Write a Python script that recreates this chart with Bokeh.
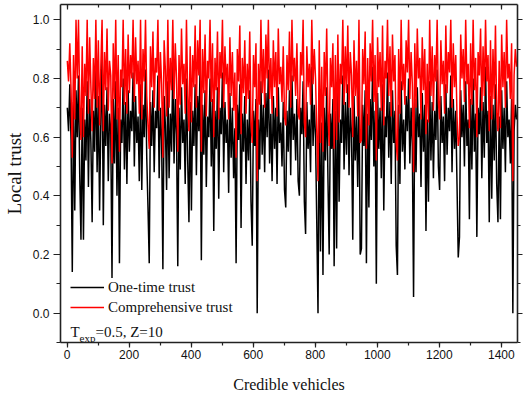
import numpy as np
from bokeh.plotting import figure
from bokeh.models import (Range1d, LinearAxis, SingleIntervalTicker, NumeralTickFormatter,
                          Legend, LegendItem, Label)
from bokeh.embed import file_html
from bokeh.resources import INLINE

# ---------------- data (one value every 4 vehicles) ----------------
vehicle_step = 4
one_time_trust = [
    0.70, 0.62, 0.78, 0.59, 0.14, 0.72, 0.35, 0.76, 0.60, 0.81, 0.47, 0.25, 0.70, 0.25, 0.66, 0.52, 0.79, 0.43, 0.73, 0.58, 0.31, 0.69, 0.55, 0.84, 0.48,
    0.74, 0.35, 0.66, 0.88, 0.30, 0.71, 0.57, 0.77, 0.45, 0.68, 0.62, 0.12, 0.73, 0.51, 0.79, 0.40, 0.70, 0.17, 0.66, 0.58, 0.80, 0.49, 0.72, 0.44, 0.76,
    0.55, 0.69, 0.62, 0.82, 0.50, 0.74, 0.58, 0.67, 0.45, 0.78, 0.42, 0.71, 0.60, 0.83, 0.53, 0.36, 0.17, 0.72, 0.57, 0.76, 0.48, 0.69, 0.63, 0.81, 0.46,
    0.70, 0.59, 0.15, 0.74, 0.64, 0.42, 0.79, 0.46, 0.68, 0.55, 0.85, 0.51, 0.73, 0.61, 0.16, 0.70, 0.49, 0.77, 0.58, 0.66, 0.44, 0.80, 0.52, 0.31, 0.72,
    0.35, 0.69, 0.57, 0.78, 0.47, 0.74, 0.62, 0.84, 0.18, 0.71, 0.54, 0.76, 0.43, 0.67, 0.60, 0.80, 0.50, 0.73, 0.28, 0.69, 0.56, 0.77, 0.39, 0.70, 0.61,
    0.82, 0.48, 0.72, 0.58, 0.66, 0.41, 0.75, 0.53, 0.70, 0.46, 0.63, 0.17, 0.71, 0.59, 0.78, 0.29, 0.68, 0.55, 0.74, 0.44, 0.66, 0.52, 0.76, 0.38, 0.23,
    0.69, 0.57, 0.73, 0.00, 0.66, 0.49, 0.79, 0.54, 0.71, 0.48, 0.75, 0.60, 0.83, 0.51, 0.68, 0.45, 0.74, 0.56, 0.70, 0.44, 0.77, 0.58, 0.65, 0.50, 0.72,
    0.42, 0.36, 0.69, 0.55, 0.76, 0.47, 0.81, 0.59, 0.68, 0.52, 0.73, 0.45, 0.40, 0.70, 0.61, 0.79, 0.38, 0.27, 0.72, 0.56, 0.66, 0.48, 0.84, 0.57, 0.71,
    0.60, 0.31, 0.00, 0.74, 0.21, 0.65, 0.13, 0.70, 0.52, 0.77, 0.46, 0.20, 0.68, 0.56, 0.73, 0.16, 0.69, 0.22, 0.75, 0.38, 0.66, 0.58, 0.81, 0.49, 0.72,
    0.54, 0.78, 0.47, 0.70, 0.61, 0.25, 0.74, 0.52, 0.67, 0.43, 0.79, 0.20, 0.22, 0.71, 0.57, 0.76, 0.17, 0.68, 0.36, 0.73, 0.59, 0.84, 0.50, 0.69, 0.10,
    0.75, 0.56, 0.70, 0.46, 0.78, 0.35, 0.67, 0.60, 0.82, 0.53, 0.72, 0.44, 0.76, 0.58, 0.69, 0.23, 0.13, 0.71, 0.44, 0.79, 0.55, 0.66, 0.49, 0.74, 0.62,
    0.80, 0.51, 0.70, 0.57, 0.055, 0.73, 0.48, 0.77, 0.60, 0.68, 0.43, 0.75, 0.55, 0.71, 0.28, 0.66, 0.38, 0.79, 0.52, 0.72, 0.46, 0.69, 0.59, 0.83, 0.50,
    0.42, 0.74, 0.58, 0.67, 0.45, 0.78, 0.54, 0.70, 0.62, 0.81, 0.48, 0.73, 0.56, 0.69, 0.44, 0.19, 0.26, 0.76, 0.60, 0.71, 0.50, 0.79, 0.57, 0.66, 0.32,
    0.73, 0.49, 0.80, 0.55, 0.68, 0.26, 0.70, 0.61, 0.77, 0.46, 0.72, 0.53, 0.84, 0.58, 0.69, 0.31, 0.74, 0.39, 0.71, 0.52, 0.78, 0.44, 0.31, 0.67, 0.32,
    0.76, 0.56, 0.70, 0.48, 0.79, 0.60, 0.66, 0.51, 0.73, 0.00, 0.62, 0.71, 0.66,
]
comprehensive_trust = [
    0.86, 0.79, 0.92, 0.76, 0.53, 0.88, 0.66, 1.00, 0.80, 1.00, 0.71, 0.59, 0.91, 0.60, 0.85, 0.74, 1.00, 0.68, 0.94, 0.77, 0.62, 0.87, 0.73, 1.00, 0.70,
    0.93, 0.64, 0.84, 1.00, 0.62, 0.89, 0.76, 0.97, 0.69, 0.86, 0.81, 0.51, 0.92, 0.73, 1.00, 0.66, 0.88, 0.55, 0.83, 0.77, 1.00, 0.71, 0.90, 0.68, 0.95,
    0.75, 0.88, 0.80, 1.00, 0.72, 0.94, 0.78, 0.86, 0.68, 1.00, 0.66, 0.90, 0.79, 1.00, 0.74, 0.64, 0.56, 0.91, 0.77, 0.96, 0.70, 0.87, 0.82, 1.00, 0.69,
    0.89, 0.78, 0.53, 0.93, 0.83, 0.67, 1.00, 0.70, 0.87, 0.76, 1.00, 0.73, 0.92, 0.80, 0.55, 0.88, 0.71, 0.97, 0.78, 0.85, 0.68, 1.00, 0.74, 0.62, 0.91,
    0.65, 0.88, 0.77, 0.98, 0.70, 0.93, 0.81, 1.00, 0.55, 0.90, 0.75, 0.95, 0.67, 0.86, 0.80, 1.00, 0.72, 0.92, 0.60, 0.87, 0.76, 0.96, 0.66, 0.89, 0.80,
    1.00, 0.70, 0.91, 0.78, 0.85, 0.66, 0.94, 0.74, 0.89, 0.69, 0.82, 0.53, 0.90, 0.79, 0.98, 0.61, 0.87, 0.75, 0.93, 0.68, 0.85, 0.73, 0.96, 0.65, 0.58,
    0.88, 0.77, 0.92, 0.45, 0.85, 0.71, 1.00, 0.75, 0.90, 0.70, 0.95, 0.80, 1.00, 0.73, 0.87, 0.68, 0.93, 0.77, 0.89, 0.67, 0.97, 0.78, 0.84, 0.72, 0.91,
    0.67, 0.64, 0.88, 0.76, 0.96, 0.70, 1.00, 0.79, 0.87, 0.74, 0.92, 0.68, 0.66, 0.89, 0.81, 1.00, 0.65, 0.60, 0.91, 0.77, 0.85, 0.71, 1.00, 0.78, 0.90,
    0.80, 0.62, 0.45, 0.93, 0.58, 0.84, 0.55, 0.89, 0.74, 0.97, 0.69, 0.57, 0.87, 0.77, 0.92, 0.56, 0.88, 0.59, 0.95, 0.65, 0.85, 0.78, 1.00, 0.71, 0.91,
    0.75, 0.98, 0.70, 0.89, 0.81, 0.60, 0.93, 0.74, 0.86, 0.67, 1.00, 0.58, 0.59, 0.90, 0.78, 0.96, 0.56, 0.87, 0.64, 0.92, 0.79, 1.00, 0.72, 0.88, 0.52,
    0.94, 0.77, 0.89, 0.69, 0.98, 0.64, 0.86, 0.80, 1.00, 0.74, 0.91, 0.67, 0.95, 0.79, 0.88, 0.58, 0.52, 0.90, 0.68, 1.00, 0.76, 0.85, 0.71, 0.93, 0.82,
    1.00, 0.73, 0.89, 0.78, 0.48, 0.92, 0.70, 0.97, 0.80, 0.87, 0.66, 0.94, 0.76, 0.90, 0.61, 0.85, 0.65, 1.00, 0.74, 0.91, 0.69, 0.88, 0.79, 1.00, 0.72,
    0.66, 0.93, 0.78, 0.86, 0.68, 0.98, 0.75, 0.89, 0.82, 1.00, 0.70, 0.92, 0.77, 0.88, 0.67, 0.57, 0.60, 0.95, 0.80, 0.90, 0.72, 1.00, 0.78, 0.85, 0.63,
    0.92, 0.71, 1.00, 0.76, 0.87, 0.60, 0.89, 0.81, 0.97, 0.69, 0.91, 0.74, 1.00, 0.79, 0.88, 0.62, 0.93, 0.66, 0.90, 0.73, 0.98, 0.68, 0.62, 0.86, 0.63,
    0.95, 0.77, 0.89, 0.70, 1.00, 0.80, 0.85, 0.73, 0.92, 0.45, 0.81, 0.90, 0.84,
]
series_labels = ["One-time trust", "Comprehensive trust"]
x_axis_title = "Credible vehicles"
y_axis_title = "Local trust"
x_tick_interval = 200
y_tick_interval = 0.2

vehicles = 1 + vehicle_step * np.arange(len(one_time_trust))

# ---------------- figure ----------------
p = figure(width=523, height=403, output_backend="svg", toolbar_location=None,
           x_range=Range1d(-21, 1452), y_range=Range1d(-0.1, 1.052),
           x_axis_type=None, y_axis_type=None,
           min_border_left=58, min_border_right=6, min_border_top=4, min_border_bottom=61)
p.grid.visible = False
p.outline_line_color = None
p.background_fill_color = "white"
p.border_fill_color = "white"

AX = "#222222"
TICKF = "Liberation Sans"
SERIF = "Liberation Serif"


def style(ax, labels=True):
    ax.axis_line_color = AX
    ax.axis_line_width = 1.6
    ax.major_tick_line_color = AX
    ax.minor_tick_line_color = AX
    ax.major_tick_line_width = 1.2
    ax.minor_tick_line_width = 1.2
    ax.major_label_text_font = TICKF
    ax.major_label_text_color = "#111111"
    ax.axis_label_text_font = SERIF
    ax.axis_label_text_font_style = "normal"
    ax.axis_label_text_color = "#111111"
    if not labels:
        ax.major_label_text_font_size = "1px"
        ax.major_label_text_color = None
        ax.major_label_standoff = 0


xb = LinearAxis(ticker=SingleIntervalTicker(interval=x_tick_interval, num_minor_ticks=2),
                axis_label=x_axis_title)
style(xb)
xb.major_label_text_font_size = "12px"
xb.axis_label_text_font_size = "16px"
xb.major_tick_out = 5
xb.major_tick_in = 0
xb.minor_tick_out = 3
xb.minor_tick_in = 0
xb.major_label_standoff = 2
xb.axis_label_standoff = 14
p.add_layout(xb, "below")

yl = LinearAxis(ticker=SingleIntervalTicker(interval=y_tick_interval, num_minor_ticks=2),
                axis_label=y_axis_title, formatter=NumeralTickFormatter(format="0.0"))
style(yl)
yl.major_label_text_font_size = "12px"
yl.axis_label_text_font_size = "19px"
yl.major_tick_out = 7
yl.major_tick_in = 0
yl.minor_tick_out = 4
yl.minor_tick_in = 0
yl.major_label_standoff = 4
yl.axis_label_standoff = 5
p.add_layout(yl, "left")

xt = LinearAxis(ticker=SingleIntervalTicker(interval=x_tick_interval, num_minor_ticks=2))
style(xt, labels=False)
xt.major_tick_in = 5
xt.major_tick_out = 0
xt.minor_tick_in = 3
xt.minor_tick_out = 0
p.add_layout(xt, "above")

yr = LinearAxis(ticker=SingleIntervalTicker(interval=y_tick_interval, num_minor_ticks=2))
style(yr, labels=False)
yr.major_tick_out = 5
yr.major_tick_in = 0
yr.minor_tick_out = 3
yr.minor_tick_in = 0
p.add_layout(yr, "right")

# ---------------- series ----------------
r_black = p.line(vehicles, one_time_trust, line_color="black", line_width=1.5)
r_red = p.line(vehicles, comprehensive_trust, line_color="#ff0000", line_width=1.5)

legend = Legend(items=[LegendItem(label=series_labels[0], renderers=[r_black]),
                       LegendItem(label=series_labels[1], renderers=[r_red])],
                location=(10, 25), orientation="vertical",
                glyph_width=34, glyph_height=20, label_height=20, label_standoff=4,
                spacing=0, padding=0, margin=0,
                border_line_alpha=0, background_fill_alpha=0,
                label_text_font=SERIF, label_text_font_size="15px", label_text_color="#111111")
p.add_layout(legend)

common = dict(x_units="screen", y_units="screen", text_font=SERIF, text_color="#111111",
              text_baseline="alphabetic")
p.add_layout(Label(x=10, y=10.5, text="T", text_font_size="15px", **common))
p.add_layout(Label(x=19, y=5, text="exp", text_font_size="11px", **common))
p.add_layout(Label(x=35, y=10.5, text="=0.5, Z=10", text_font_size="15px", **common))

open("out.html", "w").write(file_html(p, INLINE))
